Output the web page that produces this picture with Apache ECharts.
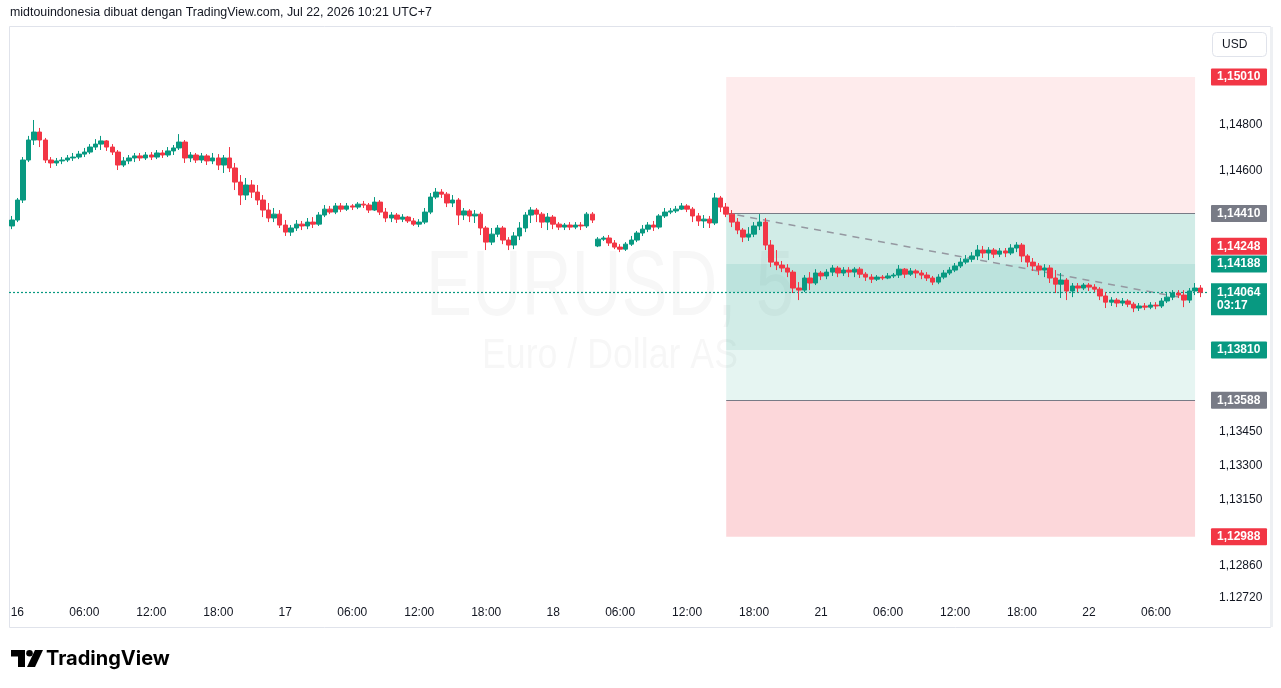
<!DOCTYPE html>
<html><head><meta charset="utf-8">
<script src="https://cdn.jsdelivr.net/npm/echarts@6/dist/echarts.min.js"></script>
<style>html,body{margin:0;padding:0;background:#fff;}#c{width:1281px;height:688px;}</style>
</head><body><div id="c"></div>
<script>
// ---- data (EURUSD, 30-minute candles; weekend gap collapsed) ----
const sessions = [
  { start: [2026, 7, 15, 23, 30], bars: 105 },
  { start: [2026, 7, 20, 4, 0], bars: 109 }
];
const opens = [
1.14355,1.14381,1.14469,1.14645,1.14733,1.14768,1.14733,1.14645,1.14632,1.14641,
1.14645,1.14654,1.14658,1.14671,1.14680,1.14702,1.14715,1.14729,1.14702,1.14680,
1.14623,1.14641,1.14654,1.14663,1.14654,1.14667,1.14658,1.14676,1.14667,1.14685,
1.14698,1.14724,1.14654,1.14667,1.14645,1.14663,1.14641,1.14654,1.14623,1.14654,
1.14610,1.14548,1.14491,1.14535,1.14504,1.14469,1.14425,1.14390,1.14407,1.14359,
1.14328,1.14346,1.14363,1.14355,1.14372,1.14363,1.14403,1.14429,1.14416,1.14443,
1.14429,1.14443,1.14438,1.14451,1.14447,1.14425,1.14460,1.14416,1.14390,1.14403,
1.14385,1.14394,1.14377,1.14363,1.14372,1.14416,1.14482,1.14504,1.14495,1.14456,
1.14469,1.14403,1.14421,1.14399,1.14407,1.14346,1.14284,1.14319,1.14346,1.14293,
1.14271,1.14311,1.14346,1.14403,1.14425,1.14407,1.14372,1.14394,1.14363,1.14350,
1.14359,1.14350,1.14359,1.14355,1.14407,
1.14267,1.14297,1.14302,1.14280,1.14262,
1.14253,1.14275,1.14293,1.14324,1.14341,1.14359,1.14350,1.14399,1.14416,1.14421,
1.14429,1.14443,1.14429,1.14399,1.14377,1.14385,1.14368,1.14478,1.14438,1.14407,
1.14372,1.14337,1.14306,1.14319,1.14355,1.14372,1.14271,1.14196,1.14183,1.14170,
1.14152,1.14082,1.14073,1.14126,1.14104,1.14148,1.14135,1.14152,1.14170,1.14148,
1.14161,1.14152,1.14165,1.14143,1.14130,1.14121,1.14130,1.14126,1.14135,1.14139,
1.14165,1.14143,1.14157,1.14148,1.14139,1.14126,1.14108,1.14130,1.14148,1.14161,
1.14179,1.14196,1.14209,1.14223,1.14249,1.14236,1.14249,1.14231,1.14245,1.14236,
1.14258,1.14271,1.14223,1.14196,1.14179,1.14161,1.14170,1.14126,1.14099,1.14117,
1.14069,1.14091,1.14082,1.14095,1.14086,1.14077,1.14047,1.14020,1.14029,1.14016,
1.14025,1.14011,1.13994,1.14003,1.13998,1.14007,1.14003,1.14025,1.14042,1.14060,
1.14051,1.14029,1.14069,1.14082
];
const closes = [
1.14381,1.14469,1.14645,1.14733,1.14768,1.14733,1.14645,1.14632,1.14641,1.14645,
1.14654,1.14658,1.14671,1.14680,1.14702,1.14715,1.14729,1.14702,1.14680,1.14623,
1.14641,1.14654,1.14663,1.14654,1.14667,1.14658,1.14676,1.14667,1.14685,1.14698,
1.14724,1.14654,1.14667,1.14645,1.14663,1.14641,1.14654,1.14623,1.14654,1.14610,
1.14548,1.14491,1.14535,1.14504,1.14469,1.14425,1.14390,1.14407,1.14359,1.14328,
1.14346,1.14363,1.14355,1.14372,1.14363,1.14403,1.14429,1.14416,1.14443,1.14429,
1.14443,1.14438,1.14451,1.14447,1.14425,1.14460,1.14416,1.14390,1.14403,1.14385,
1.14394,1.14377,1.14363,1.14372,1.14416,1.14482,1.14504,1.14495,1.14456,1.14469,
1.14403,1.14421,1.14399,1.14407,1.14346,1.14284,1.14319,1.14346,1.14293,1.14271,
1.14311,1.14346,1.14403,1.14425,1.14407,1.14372,1.14394,1.14363,1.14350,1.14359,
1.14350,1.14359,1.14355,1.14407,1.14381,
1.14297,1.14302,1.14280,1.14262,1.14253,
1.14275,1.14293,1.14324,1.14341,1.14359,1.14350,1.14399,1.14416,1.14421,1.14429,
1.14443,1.14429,1.14399,1.14377,1.14385,1.14368,1.14478,1.14438,1.14407,1.14372,
1.14337,1.14306,1.14319,1.14355,1.14372,1.14271,1.14196,1.14183,1.14170,1.14152,
1.14082,1.14073,1.14126,1.14104,1.14148,1.14135,1.14152,1.14170,1.14148,1.14161,
1.14152,1.14165,1.14143,1.14130,1.14121,1.14130,1.14126,1.14135,1.14139,1.14165,
1.14143,1.14157,1.14148,1.14139,1.14126,1.14108,1.14130,1.14148,1.14161,1.14179,
1.14196,1.14209,1.14223,1.14249,1.14236,1.14249,1.14231,1.14245,1.14236,1.14258,
1.14271,1.14223,1.14196,1.14179,1.14161,1.14170,1.14126,1.14099,1.14117,1.14069,
1.14091,1.14082,1.14095,1.14086,1.14077,1.14047,1.14020,1.14029,1.14016,1.14025,
1.14011,1.13994,1.14003,1.13998,1.14007,1.14003,1.14025,1.14042,1.14060,1.14051,
1.14029,1.14069,1.14082,1.14064
];
const highs = [
1.14399,1.14478,1.14658,1.14751,1.14821,1.14786,1.14742,1.14658,1.14654,1.14658,
1.14667,1.14676,1.14685,1.14698,1.14715,1.14737,1.14751,1.14733,1.14715,1.14689,
1.14658,1.14667,1.14676,1.14676,1.14680,1.14680,1.14689,1.14689,1.14702,1.14711,
1.14759,1.14733,1.14680,1.14676,1.14676,1.14671,1.14676,1.14671,1.14667,1.14702,
1.14632,1.14579,1.14566,1.14557,1.14535,1.14491,1.14456,1.14434,1.14425,1.14381,
1.14359,1.14381,1.14377,1.14390,1.14394,1.14416,1.14447,1.14443,1.14456,1.14456,
1.14456,1.14451,1.14460,1.14465,1.14456,1.14482,1.14469,1.14434,1.14416,1.14412,
1.14407,1.14399,1.14390,1.14385,1.14434,1.14500,1.14522,1.14517,1.14504,1.14491,
1.14478,1.14434,1.14429,1.14425,1.14416,1.14355,1.14346,1.14359,1.14355,1.14306,
1.14328,1.14372,1.14416,1.14438,1.14434,1.14416,1.14412,1.14403,1.14372,1.14368,
1.14372,1.14372,1.14372,1.14416,1.14416,
1.14306,1.14311,1.14315,1.14293,1.14275,
1.14284,1.14311,1.14333,1.14359,1.14372,1.14377,1.14407,1.14434,1.14434,1.14443,
1.14456,1.14451,1.14438,1.14412,1.14403,1.14399,1.14500,1.14487,1.14456,1.14425,
1.14390,1.14346,1.14350,1.14372,1.14407,1.14390,1.14293,1.14249,1.14201,1.14187,
1.14161,1.14108,1.14139,1.14152,1.14165,1.14157,1.14165,1.14183,1.14179,1.14174,
1.14174,1.14174,1.14174,1.14152,1.14143,1.14139,1.14139,1.14148,1.14148,1.14183,
1.14170,1.14170,1.14165,1.14161,1.14152,1.14135,1.14143,1.14161,1.14174,1.14192,
1.14214,1.14227,1.14240,1.14271,1.14267,1.14262,1.14258,1.14258,1.14258,1.14275,
1.14284,1.14280,1.14231,1.14214,1.14192,1.14187,1.14183,1.14161,1.14148,1.14126,
1.14104,1.14104,1.14104,1.14104,1.14099,1.14086,1.14064,1.14042,1.14038,1.14038,
1.14033,1.14020,1.14016,1.14016,1.14020,1.14020,1.14038,1.14060,1.14073,1.14073,
1.14073,1.14082,1.14104,1.14095
];
const lows = [
1.14341,1.14372,1.14456,1.14636,1.14711,1.14702,1.14632,1.14610,1.14619,1.14627,
1.14636,1.14641,1.14649,1.14658,1.14671,1.14689,1.14689,1.14685,1.14667,1.14601,
1.14614,1.14627,1.14636,1.14641,1.14645,1.14645,1.14649,1.14654,1.14658,1.14667,
1.14689,1.14632,1.14636,1.14632,1.14632,1.14623,1.14627,1.14601,1.14588,1.14592,
1.14513,1.14447,1.14469,1.14478,1.14447,1.14394,1.14372,1.14372,1.14346,1.14311,
1.14311,1.14333,1.14337,1.14341,1.14346,1.14355,1.14394,1.14407,1.14407,1.14416,
1.14421,1.14425,1.14429,1.14434,1.14412,1.14421,1.14403,1.14372,1.14372,1.14368,
1.14372,1.14368,1.14355,1.14350,1.14363,1.14407,1.14473,1.14478,1.14438,1.14438,
1.14359,1.14381,1.14372,1.14368,1.14315,1.14249,1.14271,1.14306,1.14275,1.14249,
1.14253,1.14293,1.14328,1.14368,1.14372,1.14346,1.14337,1.14341,1.14337,1.14337,
1.14337,1.14341,1.14337,1.14346,1.14368,
1.14262,1.14289,1.14267,1.14253,1.14240,
1.14245,1.14267,1.14284,1.14311,1.14328,1.14333,1.14341,1.14390,1.14407,1.14412,
1.14425,1.14416,1.14372,1.14355,1.14346,1.14346,1.14359,1.14416,1.14394,1.14350,
1.14319,1.14284,1.14289,1.14306,1.14337,1.14249,1.14174,1.14161,1.14152,1.14130,
1.14060,1.14029,1.14064,1.14073,1.14095,1.14117,1.14121,1.14135,1.14130,1.14135,
1.14130,1.14130,1.14126,1.14113,1.14104,1.14113,1.14117,1.14121,1.14126,1.14126,
1.14126,1.14135,1.14126,1.14121,1.14113,1.14095,1.14099,1.14121,1.14139,1.14152,
1.14170,1.14187,1.14196,1.14205,1.14214,1.14205,1.14214,1.14218,1.14218,1.14227,
1.14240,1.14196,1.14174,1.14157,1.14139,1.14130,1.14104,1.14060,1.14038,1.14029,
1.14042,1.14064,1.14073,1.14069,1.14064,1.14029,1.13994,1.14003,1.13998,1.14003,
1.13998,1.13976,1.13981,1.13985,1.13989,1.13989,1.13994,1.14016,1.14029,1.14038,
1.13998,1.14016,1.14051,1.14042
];
// price-scale tick labels
const yTicks = [1.148, 1.146, 1.1345, 1.133, 1.1315, 1.1286, 1.1272];
const yMin = 1.1271, yMax = 1.1523;
// position tool
const toolStartIdx = 128, toolEndIdx = 212;
const stopPrice = 1.15010, entryPrice = 1.14410, target1 = 1.14188, lastPrice = 1.14064,
      target2 = 1.13810, target3 = 1.13588, stop2 = 1.12988, markPrice = 1.14248;
const trendFrom = { idx: 130, price: 1.14403 }, trendTo = { idx: 212, price: 1.14029 };
const countdown = '03:17';

// ---- build categories ----
const pad = n => (n < 10 ? '0' : '') + n;
const categories = [];
sessions.forEach(s => {
  const t0 = Date.UTC(s.start[0], s.start[1] - 1, s.start[2], s.start[3], s.start[4]);
  for (let k = 0; k < s.bars; k++) {
    const d = new Date(t0 + k * 30 * 60000);
    categories.push(d.getUTCDate() + ' ' + pad(d.getUTCHours()) + ':' + pad(d.getUTCMinutes()));
  }
});
categories.push('22 10:30'); // empty right margin slot

const candleData = closes.map((c, i) => [opens[i], c, lows[i], highs[i]]);
const UP = '#089981', DOWN = '#F23645', GRAY = '#787B86';
const fmt = v => v.toFixed(5).replace('.', ',');
const FONT = 'Liberation Sans, Arial, sans-serif';

function priceTag(v, bg, offsetY) {
  return {
    yAxis: v,
    lineStyle: { color: 'rgba(0,0,0,0)', width: 0.01 },
    label: {
      show: true, position: 'end', distance: 2, offset: [0, offsetY || 0],
      formatter: fmt(v), color: '#fff', backgroundColor: bg,
      padding: [2, 6, 2, 6], fontSize: 12, fontFamily: FONT, fontWeight: 'bold',
      lineHeight: 13, width: 44, align: 'left', borderRadius: 1
    }
  };
}
const tags = [
  priceTag(stopPrice, DOWN),
  priceTag(entryPrice, GRAY),
  priceTag(markPrice, DOWN, -4),
  priceTag(target1, UP),
  priceTag(target2, UP),
  priceTag(target3, GRAY),
  priceTag(stop2, DOWN)
];
const lastTag = {
  yAxis: lastPrice,
  lineStyle: { color: UP, type: [2, 2], width: 1.2, opacity: 1 },
  label: {
    show: true, position: 'end', distance: 2,
    formatter: fmt(lastPrice) + '\n' + countdown, color: '#fff', backgroundColor: UP,
    padding: [3, 6, 3, 6], fontSize: 12, fontFamily: FONT, fontWeight: 'bold',
    lineHeight: 13, width: 44, align: 'left', offset: [0, 7]
  }
};

const chart = echarts.init(document.getElementById('c'), null, { renderer: 'canvas' });
const zone = (a, b, color) => [
  { xAxis: toolStartIdx, yAxis: a, itemStyle: { color: color } },
  { xAxis: toolEndIdx, yAxis: b }
];
chart.setOption({
  animation: false,
  backgroundColor: '#fff',
  grid: { left: 9, right: 72, top: 27, bottom: 88, containLabel: false },
  xAxis: {
    type: 'category', data: categories, boundaryGap: true,
    axisLine: { show: false }, axisTick: { show: false }, splitLine: { show: false },
    axisLabel: {
      margin: 7, color: '#131722', fontSize: 12, fontFamily: FONT,
      interval: (i, v) => { const hm = v.split(' ')[1]; const h = +hm.slice(0, 2); return hm.slice(3) === '00' && h % 6 === 0; },
      formatter: v => { const p = v.split(' '); return p[1] === '00:00' ? p[0] : p[1]; }
    }
  },
  yAxis: {
    type: 'value', position: 'right', min: yMin, max: yMax, scale: true,
    axisLine: { show: false }, axisTick: { show: false }, splitLine: { show: false },
    axisLabel: { customValues: yTicks, formatter: v => fmt(v), color: '#131722', fontSize: 12, fontFamily: FONT, margin: 10, align: 'left' }
  },
  graphic: [
    { type: 'text', left: 10, top: 7, z: 0, style: { text: 'midtouindonesia dibuat dengan TradingView.com, Jul 22, 2026 10:21 UTC+7', fill: '#131722', font: '12.4px ' + FONT } },
    { type: 'rect', z: 0, shape: { x: 9.5, y: 26.5, width: 1261, height: 601 }, style: { fill: 'none', stroke: '#E0E3EB', lineWidth: 1 } },
    { type: 'rect', z: 0, shape: { x: 1270, y: 27, width: 3, height: 600 }, style: { fill: '#EEF0F3' } },
    { type: 'text', z: 0, x: 610, y: 290, scaleX: 0.75, style: { text: 'EURUSD, 5', fill: 'rgba(19,23,34,0.035)', font: '92px "Liberation Sans", sans-serif', align: 'center', verticalAlign: 'middle' } },
    { type: 'text', z: 0, x: 610, y: 356, scaleX: 0.85, style: { text: 'Euro / Dollar AS', fill: 'rgba(19,23,34,0.035)', font: '42px "Liberation Sans", sans-serif', align: 'center', verticalAlign: 'middle' } },
    { type: 'rect', z: 100, shape: { x: 1210, y: 601, width: 59, height: 25 }, style: { fill: '#fff' } },
    { type: 'rect', z: 100, shape: { x: 1212.5, y: 32.5, width: 54, height: 24, r: 4 }, style: { fill: '#fff', stroke: '#E0E3EB', lineWidth: 1 } },
    { type: 'text', z: 101, x: 1222, y: 45, style: { text: 'USD', fill: '#131722', font: '12px ' + FONT, verticalAlign: 'middle' } },
    // TradingView logo
    { type: 'rect', z: 100, shape: { x: 11, y: 650, width: 14, height: 6.5 }, style: { fill: '#000' } },
    { type: 'rect', z: 100, shape: { x: 18, y: 650, width: 7, height: 17 }, style: { fill: '#000' } },
    { type: 'circle', z: 100, shape: { cx: 29.5, cy: 653.3, r: 3.3 }, style: { fill: '#000' } },
    { type: 'polygon', z: 100, shape: { points: [[35, 650], [43, 650], [35, 667], [27, 667]] }, style: { fill: '#000' } },
    { type: 'text', z: 100, x: 46, y: 658.5, style: { text: 'TradingView', fill: '#000', font: 'bold 20px Inter, "Liberation Sans", sans-serif', verticalAlign: 'middle' } }
  ],
  series: [
    {
      type: 'line', data: [], z: 1, silent: true,
      markArea: {
        silent: true,
        data: [
          zone(stopPrice, entryPrice, 'rgba(242,54,69,0.10)'),
          zone(entryPrice, target1, 'rgba(8,153,129,0.19)'),
          zone(target1, lastPrice, 'rgba(8,153,129,0.27)'),
          zone(lastPrice, target2, 'rgba(8,153,129,0.19)'),
          zone(target2, target3, 'rgba(8,153,129,0.10)'),
          zone(target3, stop2, 'rgba(242,54,69,0.20)')
        ]
      },
      markLine: {
        silent: true, symbol: 'none', precision: 5, label: { show: false },
        data: [
          [{ xAxis: toolStartIdx, yAxis: entryPrice, lineStyle: { color: GRAY, width: 1, type: 'solid' } }, { xAxis: toolEndIdx, yAxis: entryPrice }],
          [{ xAxis: toolStartIdx, yAxis: target3, lineStyle: { color: GRAY, width: 1, type: 'solid' } }, { xAxis: toolEndIdx, yAxis: target3 }],
          [{ xAxis: trendFrom.idx, yAxis: trendFrom.price, lineStyle: { color: '#9598A1', width: 1.5, type: [7, 6] } }, { xAxis: trendTo.idx, yAxis: trendTo.price }]
        ]
      }
    },
    {
      type: 'candlestick', data: candleData, z: 5, barWidth: 5,
      itemStyle: { color: UP, color0: DOWN, borderColor: UP, borderColor0: DOWN, borderWidth: 1 }
    },
    {
      type: 'line', data: [], z: 8, silent: true,
      markLine: { silent: true, symbol: 'none', precision: 5, data: tags.concat([lastTag]) }
    }
  ]
});
</script></body></html>
